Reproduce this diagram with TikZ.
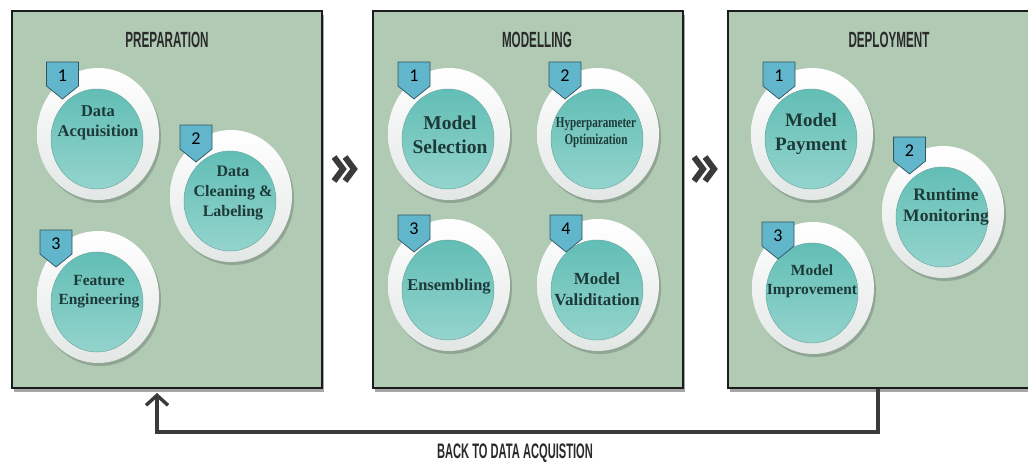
\documentclass[tikz,border=0pt]{standalone}
\usepackage{fontspec}
\setmainfont{Liberation Serif}
\newfontfamily\headfont[FakeStretch=0.53]{Liberation Sans}
\newfontfamily\numfont{Carlito}
\newfontfamily\narrowserif[FakeStretch=0.74]{Liberation Serif}
\usetikzlibrary{shapes.geometric,arrows.meta,shadows}

\definecolor{panelfill}{HTML}{B0CAB4}
\definecolor{panelline}{HTML}{1C1C1C}
\definecolor{titleink}{HTML}{2A2A2A}
\definecolor{ringshade}{HTML}{E2E7E5}
\definecolor{coretop}{HTML}{62BEB5}
\definecolor{corebottom}{HTML}{94D4CD}
\definecolor{coreedge}{HTML}{6AA9A3}
\definecolor{stepink}{HTML}{1D3A38}
\definecolor{tagblue}{HTML}{62B6CB}
\definecolor{tagline}{HTML}{2E5361}
\definecolor{arrowink}{HTML}{3A3A3A}

\tikzset{
  x=1pt, y=-1pt,
  panel/.style={rectangle, draw=panelline, line width=2.8pt, fill=panelfill,
    inner sep=0pt,
    drop shadow={shadow xshift=2pt, shadow yshift=-4pt, opacity=0.35, fill=black}},
  title/.style={font=\headfont\bfseries\fontsize{22}{22}\selectfont,
    text=titleink, inner sep=0pt},
  ring/.style={ellipse, minimum width=122pt, minimum height=132pt, inner sep=0pt,
    top color=white, bottom color=ringshade,
    drop shadow={shadow xshift=2pt, shadow yshift=-3pt, opacity=0.18, fill=black}},
  core/.style={ellipse, minimum width=92pt, minimum height=100pt, inner sep=0pt,
    top color=coretop, bottom color=corebottom, draw=coreedge, line width=0.5pt},
  steplabel/.style={align=center, text=stepink, inner sep=0pt},
  tagnum/.style={inner sep=0pt, font=\numfont\fontsize{18}{18}\selectfont, text=black},
  % numbered flag: a box of 32 x 24 with a point 13 below it
  tagflag/.pic={
    \draw[fill=tagblue, draw=tagline, line width=0.7pt, line join=miter]
      (-16,0) -- (16,0) -- (16,24) -- (0,37) -- (-16,24) -- cycle;
    \node[tagnum] (-num) at (0,14) {#1};
  },
  loopline/.style={draw=arrowink, line width=3.4pt},
  chevrons/.pic={
    \draw[draw=arrowink, line width=6pt, line cap=butt, line join=miter]
      (-12,-12) -- (-3,0) -- (-12,12)
      (-1,-12) -- (8,0) -- (-1,12);
  }
}

\begin{document}
\begin{tikzpicture}
\clip (0,0) rectangle (1028,464);
\fill[white] (0,0) rectangle (1028,464);

% ---------- the three stage panels ----------
\node[panel, minimum width=310pt, minimum height=377pt] (prep)   at (167,199.5) {};
\node[panel, minimum width=310pt, minimum height=377pt] (model)  at (528,199.5) {};
\node[panel, minimum width=312pt, minimum height=377pt] (deploy) at (884,199.5) {};

\node[title] (prepT)   at (167,40) {PREPARATION};
\node[title] (modelT)  at (537,40) {MODELLING};
\node[title] (deployT) at (889,40) {DEPLOYMENT};

% ---------- preparation ----------
\node[ring] (r11) at (98,134) {};
\node[core] (k11) at (97,139) {};
\node[steplabel, font=\bfseries\fontsize{16.5}{20}\selectfont] (l11) at (98,123) {Data\\Acquisition};
\pic (t11) at (62.5,62) {tagflag=1};

\node[ring] (r12) at (231,196) {};
\node[core] (k12) at (230,201) {};
\node[steplabel, font=\bfseries\fontsize{16}{20}\selectfont] (l12) at (233,193) {Data\\Cleaning \&\\Labeling};
\pic (t12) at (196,125) {tagflag=2};

\node[ring] (r13) at (98,297) {};
\node[core] (k13) at (97,302) {};
\node[steplabel, font=\bfseries\fontsize{15.5}{19}\selectfont] (l13) at (99,292) {Feature\\Engineering};
\pic (t13) at (56,230) {tagflag=3};

% ---------- modelling ----------
\node[ring] (r21) at (449,134) {};
\node[core] (k21) at (448,139) {};
\node[steplabel, font=\bfseries\fontsize{19.5}{24}\selectfont] (l21) at (450,135) {Model\\Selection};
\pic (t21) at (414,62) {tagflag=1};

\node[ring] (r22) at (598,134) {};
\node[core] (k22) at (597,139) {};
\node[steplabel, font=\narrowserif\bfseries\fontsize{15}{17}\selectfont] (l22) at (596,133) {Hyperparameter\\Optimization};
\pic (t22) at (565,62) {tagflag=2};

\node[ring] (r23) at (449,285) {};
\node[core] (k23) at (448,290) {};
\node[steplabel, font=\bfseries\fontsize{16.5}{20}\selectfont] (l23) at (449,287) {Ensembling};
\pic (t23) at (414,215) {tagflag=3};

\node[ring] (r24) at (598,285) {};
\node[core] (k24) at (597,290) {};
\node[steplabel, font=\bfseries\fontsize{17}{21}\selectfont] (l24) at (597,289) {Model\\Validitation};
\pic (t24) at (566,215) {tagflag=4};

% ---------- deployment ----------
\node[ring] (r31) at (812,134) {};
\node[core] (k31) at (811,139) {};
\node[steplabel, font=\bfseries\fontsize{19}{24}\selectfont] (l31) at (811,134) {Model\\Payment};
\pic (t31) at (779,62) {tagflag=1};

\node[ring] (r32) at (943,212) {};
\node[core] (k32) at (942,217) {};
\node[steplabel, font=\bfseries\fontsize{17.5}{21}\selectfont] (l32) at (946,207) {Runtime\\Monitoring};
\pic (t32) at (909.5,137) {tagflag=2};

\node[ring] (r33) at (813,288) {};
\node[core] (k33) at (812,293) {};
\node[steplabel, font=\bfseries\fontsize{15.5}{19}\selectfont] (l33) at (812,281) {Model\\Improvement};
\pic (t33) at (778,222) {tagflag=3};

% ---------- flow between the stages ----------
\pic (chevA) at (346,169) {chevrons};
\pic (chevB) at (706,169) {chevrons};

% ---------- return path ----------
\coordinate (loopstart) at (878,389);
\coordinate (loopturn)  at (878,432);
\coordinate (loopend)   at (157,393);
\draw[loopline, -{Straight Barb[length=10pt, width=22pt]}]
  (loopstart) -- (loopturn) -| (loopend);
\node[font=\headfont\bfseries\fontsize{21}{21}\selectfont, text=titleink, inner sep=0pt]
  (back) at (515,453) {BACK TO DATA ACQUISTION};
\end{tikzpicture}
\end{document}
